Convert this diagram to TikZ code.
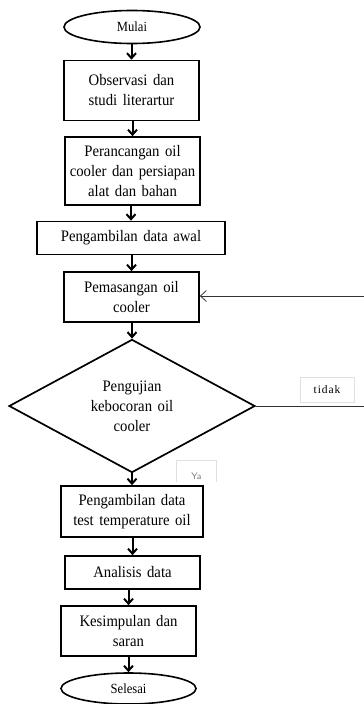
\documentclass[tikz,border=0pt]{standalone}
\usepackage{fontspec}
\setmainfont{Liberation Serif}
\newfontfamily\boxfont[FakeStretch=0.92,WordSpace=1.5]{Liberation Serif}
\newfontfamily\termfont[FakeStretch=0.9]{Liberation Serif}
\newfontfamily\labfont[LetterSpace=8]{Liberation Serif}
\usetikzlibrary{shapes.geometric,arrows.meta}
\begin{document}
\begin{tikzpicture}[x=1pt,y=-1pt,
  box/.style={draw,line width=1.7pt,rectangle,inner sep=0pt,align=center,
    font=\boxfont\fontsize{16}{20}\selectfont},
  term/.style={draw,line width=1.6pt,ellipse,inner sep=0pt,
    font=\termfont\fontsize{14}{16}\selectfont},
  decide/.style={draw,line width=1.7pt,diamond,inner sep=0pt,align=center,
    font=\boxfont\fontsize{16}{20}\selectfont},
  flow/.style={line width=2pt,-{Straight Barb[length=5pt,width=9pt,line width=2pt]}},
  back/.style={line width=0.8pt,draw=black!80},
  lab/.style={draw=black!12,line width=0.8pt,fill=white,inner sep=0pt}]
\useasboundingbox[fill=white] (0,0) rectangle (364,704);

\node[term,minimum width=136pt,minimum height=33pt] (start) at (132,27) {Mulai};
\node[box,minimum width=135pt,minimum height=60pt] (b1) at (131.5,90.5) {Observasi dan\\studi literartur};
\node[box,minimum width=135pt,minimum height=68pt] (b2) at (132.5,171) {Perancangan oil\\cooler dan persiapan\\alat dan bahan};
\node[box,minimum width=188pt,minimum height=33pt] (b3) at (131,238) {Pengambilan data awal};
\node[box,minimum width=135pt,minimum height=50pt] (b4) at (131.5,297) {Pemasangan oil\\cooler};
\node[decide,minimum width=246pt,minimum height=130pt] (dec) at (132,406) {Pengujian\\kebocoran oil\\cooler};
\node[box,minimum width=142pt,minimum height=51pt] (b5) at (132,511.5) {Pengambilan data\\test temperature oil};
\node[box,minimum width=135pt,minimum height=33pt] (b6) at (132.5,572.5) {Analisis data};
\node[box,minimum width=135pt,minimum height=50pt] (b7) at (128.5,631) {Kesimpulan dan\\saran};
\node[term,minimum width=135pt,minimum height=31pt] (stop) at (128.5,688.5) {Selesai};

% labels
\node[lab,minimum width=54pt,minimum height=25pt,font=\labfont\fontsize{11.5}{13}\selectfont] (tidak) at (327,389.5) {tidak};
\begin{scope}
\clip (170,455) rectangle (222,481);
\node[lab,minimum width=40pt,minimum height=30pt,anchor=north west,text=black!55,
  font=\sffamily\fontsize{9.5}{11}\selectfont] (ya) at (176,460) {\raisebox{-9pt}{Ya}};
\end{scope}

% main flow
\foreach \a/\b in {start/b1,b1/b2,b2/b3,b3/b4,b4/dec,dec/b5,b5/b6,b6/b7,b7/stop}
  \draw[flow] (\b.north |- \a.south) -- (\b.north);

% loop back (vertical part lies beyond the right edge)
\coordinate (rA) at (364,406);
\coordinate (rB) at (364,296);
\draw[back] (dec.east) -- (rA);
\draw[back,-{Straight Barb[length=6pt,width=11pt,line width=0.8pt]}] (rB) -- (b4.east |- rB);
\end{tikzpicture}
\end{document}
